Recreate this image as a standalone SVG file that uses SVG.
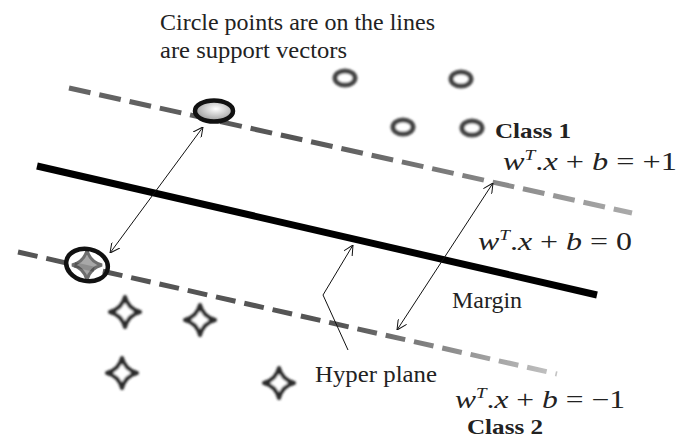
<svg xmlns="http://www.w3.org/2000/svg" width="678" height="441" viewBox="0 0 678 441">
  <style>
    text { font-family: 'Liberation Serif', 'Tinos', 'DejaVu Serif', serif; fill: #222; }
    .txt { font-size: 23px; }
    .bold { font-size: 22px; font-weight: bold; }
    .math { font-size: 25px; }
    .it { font-style: italic; }
    .ring { fill: #fff; stroke: #444; stroke-width: 5; filter: url(#soft); }
    .star { fill: #fff; stroke: #2a2a2a; stroke-width: 4; stroke-linejoin: round; filter: url(#soft); }
    .arrow { fill: none; stroke: #111; stroke-width: 1; }
  </style>
  <defs>
    <filter id="soft" x="-30%" y="-30%" width="160%" height="160%">
      <feGaussianBlur stdDeviation="0.8"/>
    </filter>
    <linearGradient id="gUp" gradientUnits="userSpaceOnUse" x1="69" y1="88" x2="632" y2="213">
      <stop offset="0" stop-color="#666"/>
      <stop offset="0.4" stop-color="#555"/>
      <stop offset="1" stop-color="#aaa"/>
    </linearGradient>
    <linearGradient id="gLow" gradientUnits="userSpaceOnUse" x1="18" y1="252" x2="557" y2="374">
      <stop offset="0" stop-color="#555"/>
      <stop offset="0.6" stop-color="#555"/>
      <stop offset="1" stop-color="#c4c4c4"/>
    </linearGradient>
    <radialGradient id="gSv" cx="0.55" cy="0.4" r="0.6">
      <stop offset="0" stop-color="#fff"/>
      <stop offset="1" stop-color="#999"/>
    </radialGradient>
    <marker id="ah" viewBox="0 0 10 10" refX="10" refY="5" markerWidth="10" markerHeight="10" markerUnits="userSpaceOnUse" orient="auto-start-reverse">
      <path d="M0,0 L10,5 L0,10" fill="none" stroke="#111" stroke-width="1"/>
    </marker>
    <path id="starShape" d="M0,-15 Q3,-3 15,0 Q3,3 0,15 Q-3,3 -15,0 Q-3,-3 0,-15 Z"/>
  </defs>

  <rect width="678" height="441" fill="#fff"/>

  <g id="lines">
    <line id="margin-plus" x1="69" y1="88" x2="632" y2="213" stroke="url(#gUp)" stroke-width="5" stroke-dasharray="22 9"/>
    <line id="hyperplane" x1="37" y1="166" x2="597" y2="295" stroke="#000" stroke-width="7"/>
    <line id="margin-minus" x1="18" y1="252" x2="557" y2="374" stroke="url(#gLow)" stroke-width="5" stroke-dasharray="20 9"/>
  </g>

  <g id="class1">
    <ellipse class="ring" cx="345" cy="78" rx="10" ry="7"/>
    <ellipse class="ring" cx="461" cy="79" rx="10" ry="7"/>
    <ellipse class="ring" cx="403" cy="127" rx="10" ry="7"/>
    <ellipse class="ring" cx="472" cy="128" rx="10" ry="7"/>
  </g>

  <g id="class2">
    <use href="#starShape" class="star" x="125" y="312"/>
    <use href="#starShape" class="star" x="200" y="320"/>
    <use href="#starShape" class="star" x="122" y="373"/>
    <use href="#starShape" class="star" x="279" y="383"/>
  </g>

  <g id="sv-top">
    <ellipse cx="214" cy="111" rx="19" ry="10.5" fill="url(#gSv)" stroke="#111" stroke-width="4.5"/>
  </g>

  <g id="sv-bottom">
    <use href="#starShape" x="87" y="265" fill="#999" stroke="#555" stroke-width="3" opacity="0.85"/>
    <ellipse cx="87" cy="265" rx="21" ry="16" fill="none" stroke="#111" stroke-width="4.5" transform="rotate(12 87 265)"/>
  </g>

  <g id="connectors">
    <line class="arrow" x1="203" y1="127" x2="110" y2="253" marker-start="url(#ah)" marker-end="url(#ah)"/>
    <line class="arrow" x1="493" y1="183" x2="397" y2="330" marker-start="url(#ah)" marker-end="url(#ah)"/>
    <polyline class="arrow" points="348,350 323,295 353,245" marker-end="url(#ah)"/>
  </g>

  <g id="labels">
    <text class="txt" x="160" y="30" textLength="275" lengthAdjust="spacingAndGlyphs">Circle points are on the lines</text>
    <text class="txt" x="160" y="58" textLength="187" lengthAdjust="spacingAndGlyphs">are support vectors</text>
    <text class="bold" x="495" y="138" textLength="76" lengthAdjust="spacingAndGlyphs">Class 1</text>
    <text class="math" x="503" y="170" textLength="174" lengthAdjust="spacingAndGlyphs"><tspan class="it">w</tspan><tspan class="it" font-size="15" dy="-10">T</tspan><tspan dy="10">.</tspan><tspan class="it">x</tspan> + <tspan class="it">b</tspan> = +1</text>
    <text class="math" x="478" y="250" textLength="154" lengthAdjust="spacingAndGlyphs"><tspan class="it">w</tspan><tspan class="it" font-size="15" dy="-10">T</tspan><tspan dy="10">.</tspan><tspan class="it">x</tspan> + <tspan class="it">b</tspan> = 0</text>
    <text class="txt" x="452" y="308" textLength="70" lengthAdjust="spacingAndGlyphs">Margin</text>
    <text class="txt" x="315" y="382" textLength="122" lengthAdjust="spacingAndGlyphs">Hyper plane</text>
    <text class="math" x="455" y="408" textLength="170" lengthAdjust="spacingAndGlyphs"><tspan class="it">w</tspan><tspan class="it" font-size="15" dy="-10">T</tspan><tspan dy="10">.</tspan><tspan class="it">x</tspan> + <tspan class="it">b</tspan> = −1</text>
    <text class="bold" x="467" y="434" textLength="76" lengthAdjust="spacingAndGlyphs">Class 2</text>
  </g>
</svg>
